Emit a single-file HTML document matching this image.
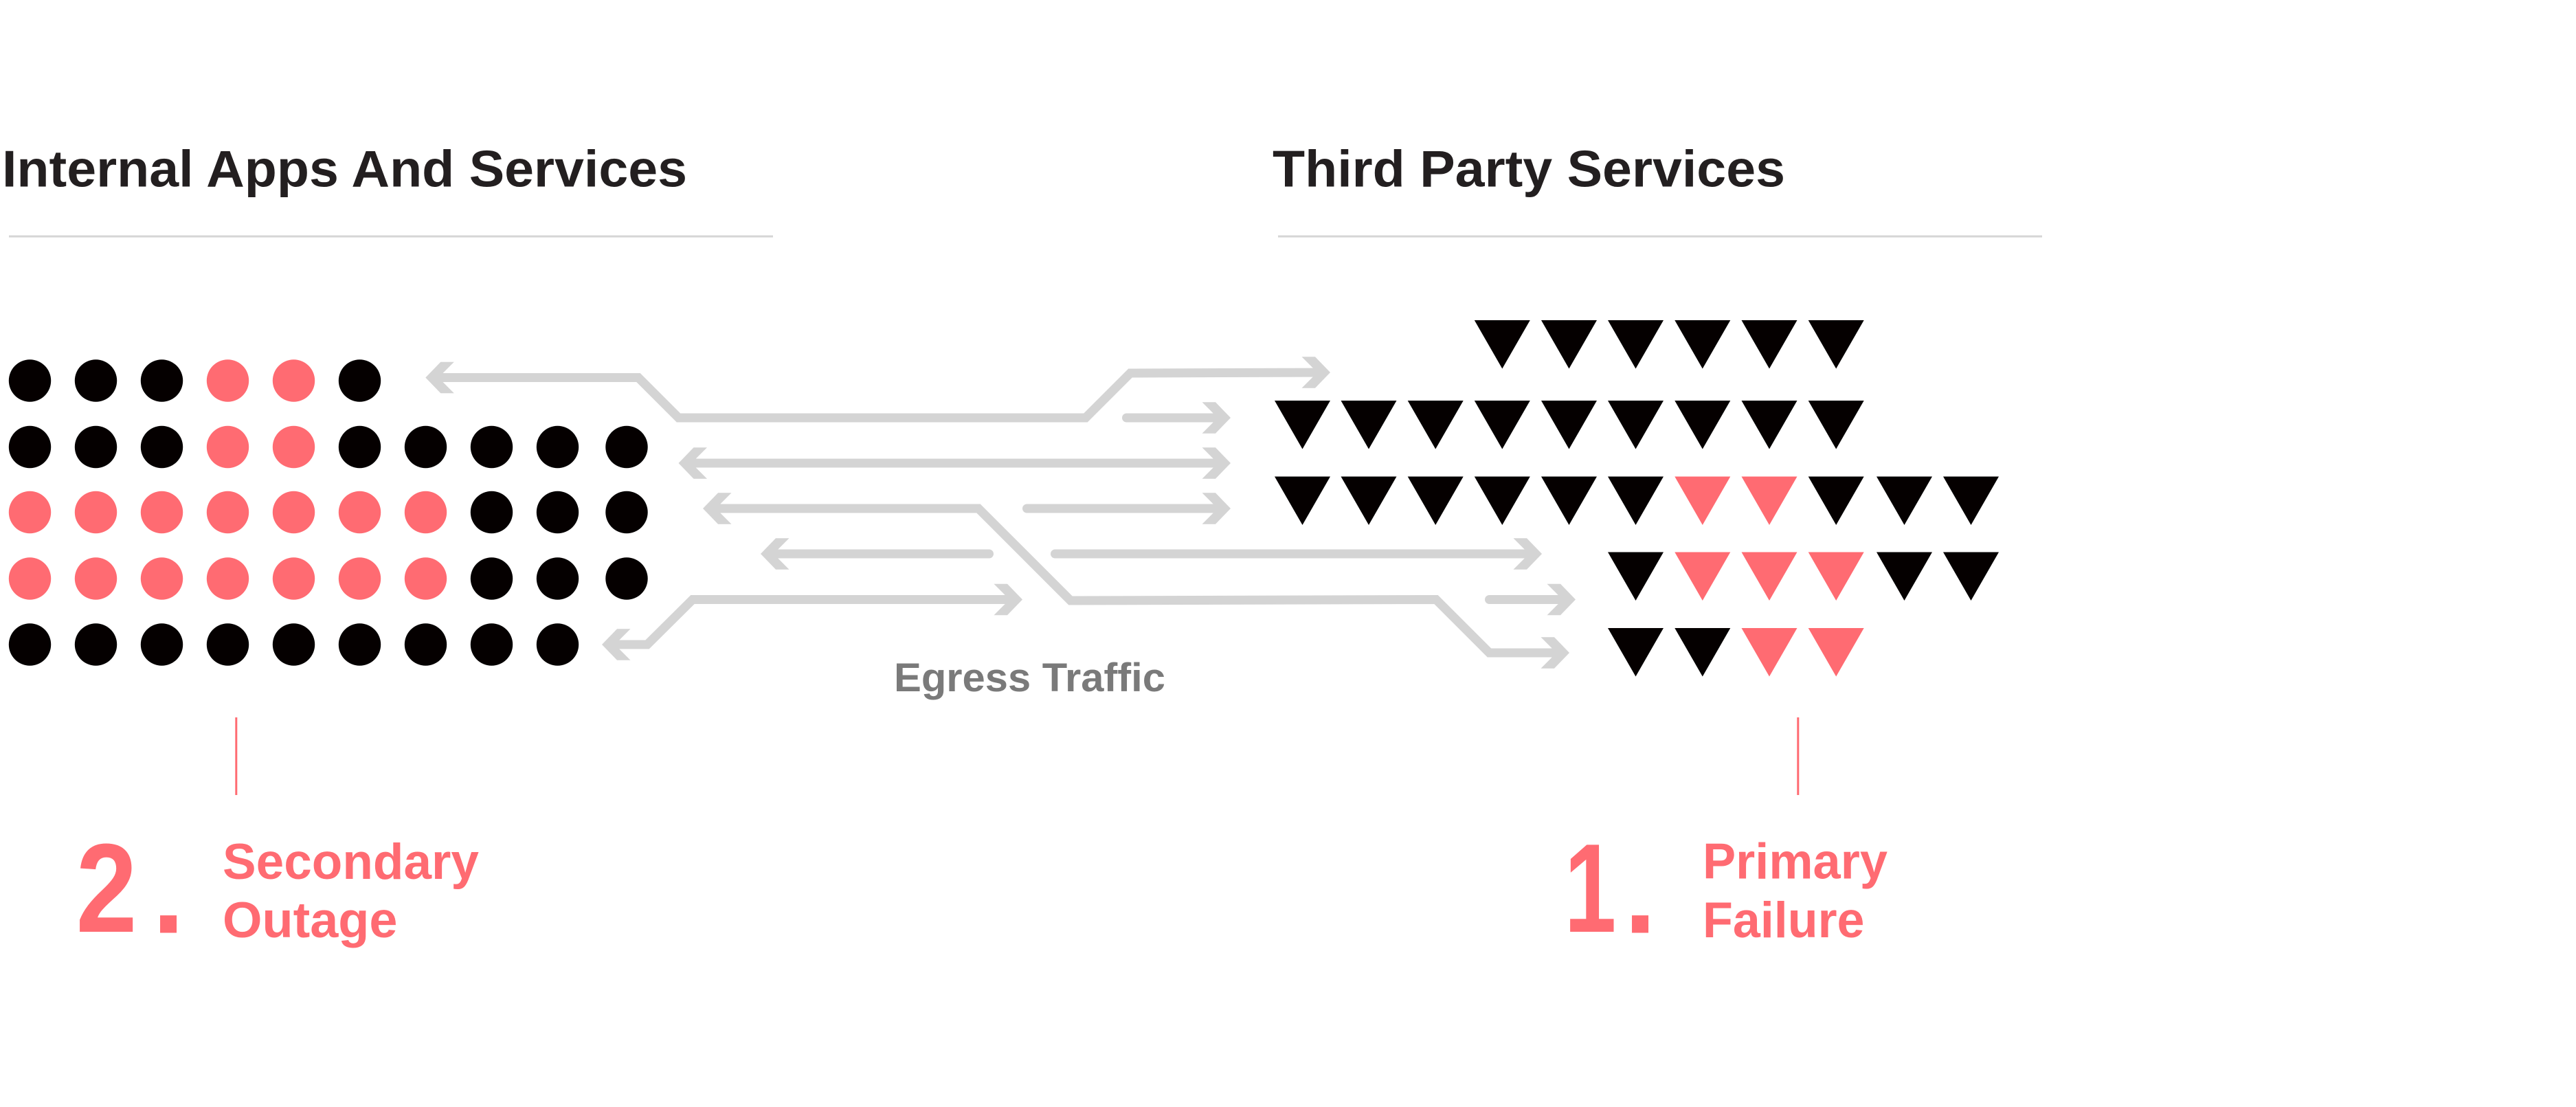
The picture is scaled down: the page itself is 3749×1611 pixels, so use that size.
<!DOCTYPE html>
<html>
<head>
<meta charset="utf-8">
<style>
  html, body { margin: 0; padding: 0; background: #ffffff; }
  body { width: 3749px; height: 1611px; overflow: hidden; }
  svg { display: block; }
  .h { font-family: "Liberation Sans", Arial, sans-serif; font-weight: bold; }
</style>
</head>
<body>
<svg width="3749" height="1611" viewBox="0 0 3749 1611" xmlns="http://www.w3.org/2000/svg">
  <defs>
    <path id="t" d="M0,0 H81 L40.5,70.5 Z"/>
  </defs>
  <rect x="0" y="0" width="3749" height="1611" fill="#ffffff"/>

  <!-- Headings -->
  <text class="h" x="3" y="271.5" font-size="75" fill="#231f20" textLength="997" lengthAdjust="spacingAndGlyphs">Internal Apps And Services</text>
  <text class="h" x="1852" y="271.5" font-size="75" fill="#231f20" textLength="746" lengthAdjust="spacingAndGlyphs">Third Party Services</text>
  <rect x="13" y="342.5" width="1112" height="3" fill="#d6d6d6"/>
  <rect x="1860" y="342.5" width="1112" height="3" fill="#d6d6d6"/>

  <!-- Dots -->
  <g>
    <!-- row 1 -->
    <circle cx="43.5" cy="554" r="30.7" fill="#050000"/>
    <circle cx="139.5" cy="554" r="30.7" fill="#050000"/>
    <circle cx="235.5" cy="554" r="30.7" fill="#050000"/>
    <circle cx="331.5" cy="554" r="30.7" fill="#ff6b72"/>
    <circle cx="427.5" cy="554" r="30.7" fill="#ff6b72"/>
    <circle cx="523.5" cy="554" r="30.7" fill="#050000"/>
    <!-- row 2 -->
    <circle cx="43.5" cy="650.5" r="30.7" fill="#050000"/>
    <circle cx="139.5" cy="650.5" r="30.7" fill="#050000"/>
    <circle cx="235.5" cy="650.5" r="30.7" fill="#050000"/>
    <circle cx="331.5" cy="650.5" r="30.7" fill="#ff6b72"/>
    <circle cx="427.5" cy="650.5" r="30.7" fill="#ff6b72"/>
    <circle cx="523.5" cy="650.5" r="30.7" fill="#050000"/>
    <circle cx="619.5" cy="650.5" r="30.7" fill="#050000"/>
    <circle cx="715.5" cy="650.5" r="30.7" fill="#050000"/>
    <circle cx="811.5" cy="650.5" r="30.7" fill="#050000"/>
    <circle cx="912" cy="650.5" r="30.7" fill="#050000"/>
    <!-- row 3 -->
    <circle cx="43.5" cy="745.5" r="30.7" fill="#ff6b72"/>
    <circle cx="139.5" cy="745.5" r="30.7" fill="#ff6b72"/>
    <circle cx="235.5" cy="745.5" r="30.7" fill="#ff6b72"/>
    <circle cx="331.5" cy="745.5" r="30.7" fill="#ff6b72"/>
    <circle cx="427.5" cy="745.5" r="30.7" fill="#ff6b72"/>
    <circle cx="523.5" cy="745.5" r="30.7" fill="#ff6b72"/>
    <circle cx="619.5" cy="745.5" r="30.7" fill="#ff6b72"/>
    <circle cx="715.5" cy="745.5" r="30.7" fill="#050000"/>
    <circle cx="811.5" cy="745.5" r="30.7" fill="#050000"/>
    <circle cx="912" cy="745.5" r="30.7" fill="#050000"/>
    <!-- row 4 -->
    <circle cx="43.5" cy="842" r="30.7" fill="#ff6b72"/>
    <circle cx="139.5" cy="842" r="30.7" fill="#ff6b72"/>
    <circle cx="235.5" cy="842" r="30.7" fill="#ff6b72"/>
    <circle cx="331.5" cy="842" r="30.7" fill="#ff6b72"/>
    <circle cx="427.5" cy="842" r="30.7" fill="#ff6b72"/>
    <circle cx="523.5" cy="842" r="30.7" fill="#ff6b72"/>
    <circle cx="619.5" cy="842" r="30.7" fill="#ff6b72"/>
    <circle cx="715.5" cy="842" r="30.7" fill="#050000"/>
    <circle cx="811.5" cy="842" r="30.7" fill="#050000"/>
    <circle cx="912" cy="842" r="30.7" fill="#050000"/>
    <!-- row 5 -->
    <circle cx="43.5" cy="938" r="30.7" fill="#050000"/>
    <circle cx="139.5" cy="938" r="30.7" fill="#050000"/>
    <circle cx="235.5" cy="938" r="30.7" fill="#050000"/>
    <circle cx="331.5" cy="938" r="30.7" fill="#050000"/>
    <circle cx="427.5" cy="938" r="30.7" fill="#050000"/>
    <circle cx="523.5" cy="938" r="30.7" fill="#050000"/>
    <circle cx="619.5" cy="938" r="30.7" fill="#050000"/>
    <circle cx="715.5" cy="938" r="30.7" fill="#050000"/>
    <circle cx="811.5" cy="938" r="30.7" fill="#050000"/>
  </g>

  <!-- Triangles -->
  <g>
    <!-- row 1 -->
    <use href="#t" x="2145.8" y="466" fill="#050000"/>
    <use href="#t" x="2243" y="466" fill="#050000"/>
    <use href="#t" x="2340" y="466" fill="#050000"/>
    <use href="#t" x="2437.3" y="466" fill="#050000"/>
    <use href="#t" x="2534.5" y="466" fill="#050000"/>
    <use href="#t" x="2631.7" y="466" fill="#050000"/>
    <!-- row 2 -->
    <use href="#t" x="1855" y="583" fill="#050000"/>
    <use href="#t" x="1951.5" y="583" fill="#050000"/>
    <use href="#t" x="2048.7" y="583" fill="#050000"/>
    <use href="#t" x="2145.8" y="583" fill="#050000"/>
    <use href="#t" x="2243" y="583" fill="#050000"/>
    <use href="#t" x="2340" y="583" fill="#050000"/>
    <use href="#t" x="2437.3" y="583" fill="#050000"/>
    <use href="#t" x="2534.5" y="583" fill="#050000"/>
    <use href="#t" x="2631.7" y="583" fill="#050000"/>
    <!-- row 3 -->
    <use href="#t" x="1855" y="693.5" fill="#050000"/>
    <use href="#t" x="1951.5" y="693.5" fill="#050000"/>
    <use href="#t" x="2048.7" y="693.5" fill="#050000"/>
    <use href="#t" x="2145.8" y="693.5" fill="#050000"/>
    <use href="#t" x="2243" y="693.5" fill="#050000"/>
    <use href="#t" x="2340" y="693.5" fill="#050000"/>
    <use href="#t" x="2437.3" y="693.5" fill="#ff6b72"/>
    <use href="#t" x="2534.5" y="693.5" fill="#ff6b72"/>
    <use href="#t" x="2631.7" y="693.5" fill="#050000"/>
    <use href="#t" x="2731" y="693.5" fill="#050000"/>
    <use href="#t" x="2828" y="693.5" fill="#050000"/>
    <!-- row 4 -->
    <use href="#t" x="2340" y="803.5" fill="#050000"/>
    <use href="#t" x="2437.3" y="803.5" fill="#ff6b72"/>
    <use href="#t" x="2534.5" y="803.5" fill="#ff6b72"/>
    <use href="#t" x="2631.7" y="803.5" fill="#ff6b72"/>
    <use href="#t" x="2731" y="803.5" fill="#050000"/>
    <use href="#t" x="2828" y="803.5" fill="#050000"/>
    <!-- row 5 -->
    <use href="#t" x="2340" y="914" fill="#050000"/>
    <use href="#t" x="2437.3" y="914" fill="#050000"/>
    <use href="#t" x="2534.5" y="914" fill="#ff6b72"/>
    <use href="#t" x="2631.7" y="914" fill="#ff6b72"/>
  </g>

  <!-- Connectors -->
  <g fill="none" stroke="#d4d4d4" stroke-width="13" stroke-linejoin="miter" stroke-miterlimit="10">
    <path d="M631,549.5 H929 L987.5,608 H1580 L1645,543 L1924,542"/>
    <path d="M999.5,674 H1779"/>
    <path d="M1035,740 H1424 L1558,874 L2090,872.5 L2167.5,950 H2272"/>
    <path d="M888,938 H942 L1008,872.5 H1476"/>
  </g>
  <g fill="none" stroke="#d4d4d4" stroke-width="13" stroke-linecap="round">
    <path d="M1494.5,740 H1779"/>
    <path d="M1639.5,608 H1779"/>
    <path d="M1119,806 H1439.5"/>
    <path d="M1535.5,806 H2232"/>
    <path d="M2167.5,872.5 H2281"/>
  </g>
  <g fill="#d4d4d4">
    <!-- left-pointing chevrons -->
    <polygon points="619.3,549.5 641.3,526.8 660.8,526.8 638.1,549.5 660.8,572.2 641.3,572.2"/>
    <polygon points="987.5,674 1009.5,651.3 1029,651.3 1006.3,674 1029,696.7 1009.5,696.7"/>
    <polygon points="1023,740 1045,717.3 1064.5,717.3 1041.8,740 1064.5,762.7 1045,762.7"/>
    <polygon points="1107,806 1129,783.3 1148.5,783.3 1125.8,806 1148.5,828.7 1129,828.7"/>
    <polygon points="876,938 898,915.3 917.5,915.3 894.8,938 917.5,960.7 898,960.7"/>
    <!-- right-pointing chevrons -->
    <polygon points="1936,542 1914,519.3 1894.5,519.3 1917.2,542 1894.5,564.7 1914,564.7"/>
    <polygon points="1791,674 1769,651.3 1749.5,651.3 1772.2,674 1749.5,696.7 1769,696.7"/>
    <polygon points="2284,950 2262,927.3 2242.5,927.3 2265.2,950 2242.5,972.7 2262,972.7"/>
    <polygon points="1791,740 1769,717.3 1749.5,717.3 1772.2,740 1749.5,762.7 1769,762.7"/>
    <polygon points="1791,608 1769,585.3 1749.5,585.3 1772.2,608 1749.5,630.7 1769,630.7"/>
    <polygon points="2244,806 2222,783.3 2202.5,783.3 2225.2,806 2202.5,828.7 2222,828.7"/>
    <polygon points="1488,872.5 1466,849.8 1446.5,849.8 1469.2,872.5 1446.5,895.2 1466,895.2"/>
    <polygon points="2293,872.5 2271,849.8 2251.5,849.8 2274.2,872.5 2251.5,895.2 2271,895.2"/>
  </g>

  <!-- Egress Traffic label -->
  <text class="h" x="1301" y="1006" font-size="58" fill="#7a7a7a" textLength="395" lengthAdjust="spacingAndGlyphs">Egress Traffic</text>

  <!-- Red markers -->
  <rect x="342.3" y="1044" width="3" height="113" fill="#ff6b72"/>
  <rect x="2615.3" y="1044" width="3" height="113" fill="#ff6b72"/>

  <!-- 2. Secondary Outage -->
  <text class="h" x="-4" y="0" font-size="184" fill="#ff6b72" transform="translate(114,1356) scale(0.87,1)">2</text>
  <text class="h" x="221.5" y="1357.5" font-size="170" fill="#ff6b72">.</text>
  <text class="h" x="324" y="1279" font-size="73" fill="#ff6b72" textLength="373" lengthAdjust="spacingAndGlyphs">Secondary</text>
  <text class="h" x="324" y="1364" font-size="73" fill="#ff6b72" textLength="254.5" lengthAdjust="spacingAndGlyphs">Outage</text>

  <!-- 1. Primary Failure -->
  <text class="h" x="-6" y="0" font-size="184" fill="#ff6b72" transform="translate(2281,1356) scale(0.74,1)">1</text>
  <text class="h" x="2363.5" y="1357.5" font-size="170" fill="#ff6b72">.</text>
  <text class="h" x="2478" y="1278.7" font-size="73" fill="#ff6b72" textLength="269" lengthAdjust="spacingAndGlyphs">Primary</text>
  <text class="h" x="2478" y="1364" font-size="73" fill="#ff6b72" textLength="235.5" lengthAdjust="spacingAndGlyphs">Failure</text>
</svg>
</body>
</html>
